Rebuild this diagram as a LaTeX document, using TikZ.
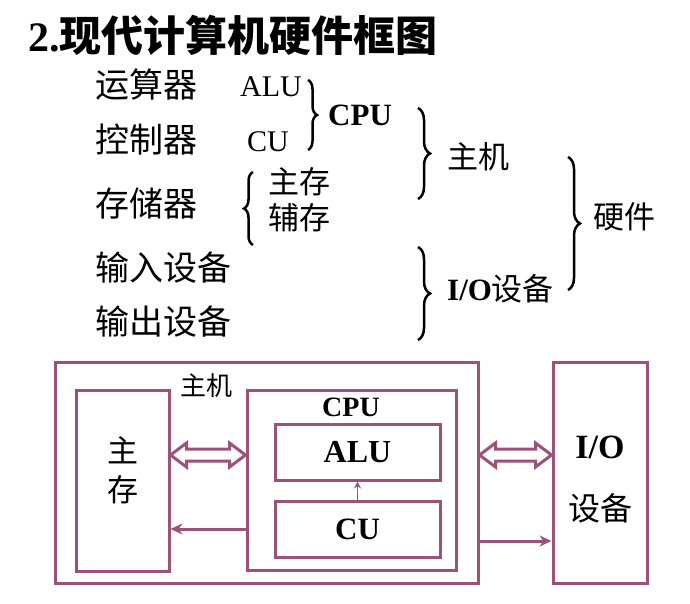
\documentclass[tikz,border=0pt]{standalone}
\usepackage{fontspec}
\setmainfont{Liberation Serif}
\newfontfamily\cjk{Noto Sans CJK SC}
\usetikzlibrary{positioning,calc,arrows.meta,decorations.pathreplacing}
\definecolor{boxline}{RGB}{155,82,122}

\tikzset{
  box/.style={draw=boxline,line width=3pt,inner sep=0pt},
  hollow/.style={draw=boxline,line width=3pt,line join=miter},
  link/.style={draw=boxline,line width=3pt,-{Stealth[length=12pt,width=11pt]}},
  brc/.style={decorate,decoration={brace,amplitude=#1},line width=2.5pt},
  word/.style={anchor=west,inner sep=0pt},
}

% hollow two-headed arrow between two named coordinates
\newcommand\hollowarrow[2]{%
  \draw[hollow] (#1) -- ++(16,-12) -- ++(0,6) -- ($(#2)+(-16,-6)$) -- ++(0,-6) -- (#2)
    -- ++(-16,12) -- ++(0,-6) -- ($(#1)+(16,6)$) -- ++(0,6) -- cycle;}

\newcommand\sz[1]{\fontsize{#1}{#1}\selectfont}

\begin{document}
\begin{tikzpicture}[x=1pt,y=-1pt]
\useasboundingbox (0,0) rectangle (690,604);

\node[word] (title) at (28,35) {\sz{42}\bfseries 2.\cjk 现代计算机硬件框图};

% classification
\node[word] (alu0) at (95,85) {\sz{34}\cjk 运算器};
\node[word] (cu0) at (95,140) {\sz{34}\cjk 控制器};
\node[word] (mem0) at (95,204) {\sz{34}\cjk 存储器};
\node[word] (in0) at (95,268) {\sz{34}\cjk 输入设备};
\node[word] (out0) at (95,322) {\sz{34}\cjk 输出设备};

\node[word] (alu1) at (240,87) {\sz{30}ALU};
\node[word] (cu1) at (247,142) {\sz{30}CU};
\node[word] (cpu1) at (328,115) {\sz{31}\bfseries CPU};
\node[word] (main1) at (268,182) {\sz{31}\cjk 主存};
\node[word] (aux1) at (268,218) {\sz{31}\cjk 辅存};
\node[word] (host1) at (447,157) {\sz{31}\cjk 主机};
\node[word] (io1) at (447,289) {\sz{31}{\bfseries I/O}\cjk 设备};
\node[word] (hw1) at (593,217) {\sz{31}\cjk 硬件};

\draw[brc=9pt] (308,80) -- (308,150);
\draw[brc=9pt] (253,245) -- (253,172);
\draw[brc=12pt] (418,108) -- (418,199);
\draw[brc=12pt] (418,247) -- (418,340);
\draw[brc=12pt] (568,157) -- (568,290);

% block diagram
\node[box,minimum width=423pt,minimum height=221pt] (host) at (266.5,472.5) {};
\node (hostlbl) at (206,386) {\sz{26}\cjk 主机};
\node[box,minimum width=93pt,minimum height=181pt] (mem) at (122.5,480.5) {};
\node (memA) at (122.5,450) {\sz{31}\cjk 主};
\node (memB) at (122.5,490) {\sz{31}\cjk 存};
\node[box,minimum width=209pt,minimum height=180pt] (cpu) at (351.5,480) {};
\node (cpulbl) at (351,407) {\sz{28}\bfseries CPU};
\node[box,minimum width=165pt,minimum height=56pt] (alu) at (357.5,452) {\sz{32}\bfseries ALU};
\node[box,minimum width=165pt,minimum height=56pt] (cu) at (357.5,529) {\sz{31}\bfseries CU};
\node[box,minimum width=94pt,minimum height=221pt] (io) at (600,472.5) {};
\node (iolbl) at (600,447) {\sz{34}\bfseries I/O};
\node (iodev) at (600,508) {\sz{32}\cjk 设备};

\coordinate (rowA) at (0,455);
\coordinate (rowB) at (0,529);
\coordinate (rowC) at (0,541);
\coordinate (memR) at (mem.east |- rowA);
\coordinate (cpuL) at (cpu.west |- rowA);
\coordinate (hostR) at (host.east |- rowA);
\coordinate (ioL) at (io.west |- rowA);

\hollowarrow{memR}{cpuL}
\hollowarrow{hostR}{ioL}
\draw[link] (cpu.west |- rowB) -- (mem.east |- rowB);
\draw[link] (host.east |- rowC) -- (io.west |- rowC);
\draw[link,line width=1.5pt,-{Stealth[length=7pt,width=7pt]}] (cu) -- (alu);

\end{tikzpicture}
\end{document}
